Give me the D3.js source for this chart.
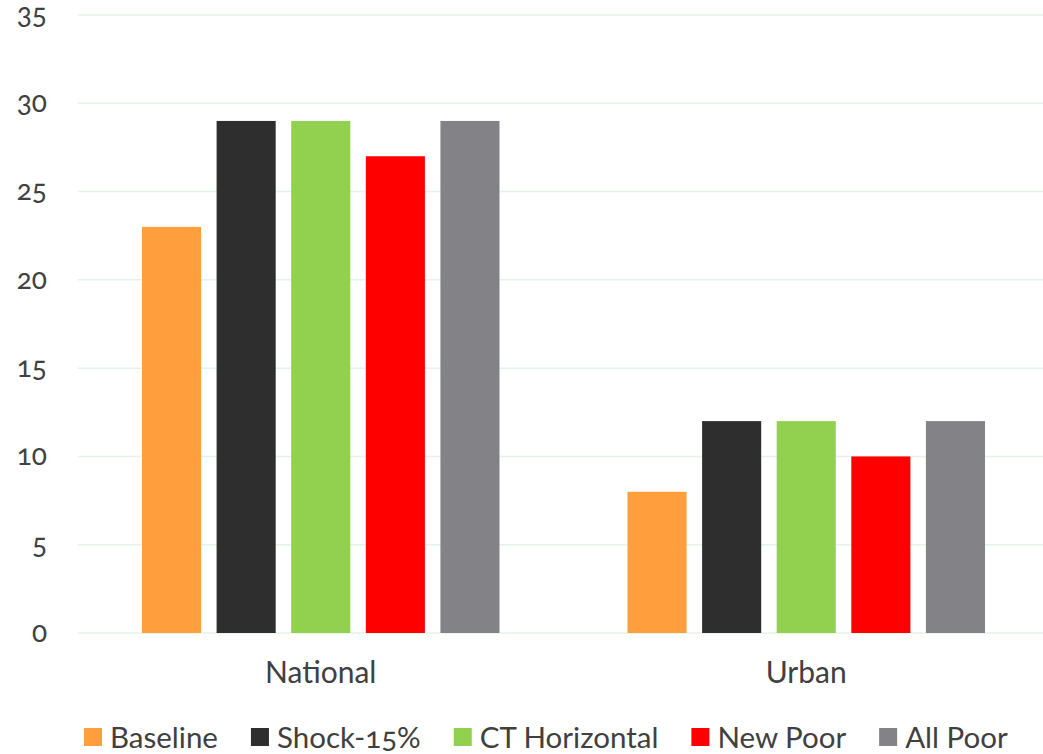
<!DOCTYPE html>
<html>
<head>
<meta charset="utf-8">
<script src="https://cdn.jsdelivr.net/npm/d3@7"></script>
<style>
  html, body { margin: 0; padding: 0; background: #fff; }
  svg { display: block; }
  text { font-family: Lato, "Open Sans", sans-serif; fill: #404040; font-variant-numeric: oldstyle-nums; font-feature-settings: "onum" 1; }
</style>
</head>
<body>
<svg id="chart" width="1043" height="754"></svg>
<script>
// Poverty rates by area under each scenario
const categories = ["National", "Urban"];
const seriesNames = ["Baseline", "Shock-15%", "CT Horizontal", "New Poor", "All Poor"];
const seriesColors = ["#FF9E3D", "#2E2E2E", "#92D050", "#FF0000", "#838287"];
const baseline = [23, 8];
const shock15 = [29, 12];
const ctHorizontal = [29, 12];
const newPoor = [27, 10];
const allPoor = [29, 12];
const yTicks = [0, 5, 10, 15, 20, 25, 30, 35];

const seriesValues = [baseline, shock15, ctHorizontal, newPoor, allPoor];

const svg = d3.select("#chart");
const plot = { left: 78, right: 1049, top: 15, bottom: 633 };

const y = d3.scaleLinear().domain([0, 35]).range([plot.bottom, plot.top]);
const x0 = d3.scaleBand().domain(categories).range([plot.left, plot.right]).padding(0);
const x1 = d3.scaleBand().domain(seriesNames)
  .range([64, x0.bandwidth() - 64])
  .paddingInner(0.208).paddingOuter(0);

// gridlines
svg.append("g")
  .selectAll("line")
  .data(yTicks)
  .join("line")
  .attr("x1", plot.left).attr("x2", plot.right)
  .attr("y1", d => y(d)).attr("y2", d => y(d))
  .attr("stroke", "#E4F4E8").attr("stroke-width", 1.5);

// y axis labels
const yAxis = d3.axisLeft(y).tickValues(yTicks).tickSize(0).tickPadding(0);
const yg = svg.append("g").attr("transform", `translate(47,0)`).call(yAxis);
yg.select(".domain").remove();
yg.selectAll("text")
  .attr("font-size", 28)
  .attr("dy", "0.3em")
  .style("font-family", "Lato, sans-serif")
  .style("fill", "#404040");

// bars
const groups = svg.append("g")
  .selectAll("g")
  .data(categories)
  .join("g")
  .attr("transform", d => `translate(${x0(d)},0)`);

groups.selectAll("rect")
  .data((c, ci) => seriesNames.map((s, si) => ({ s, si, v: seriesValues[si][ci] })))
  .join("rect")
  .attr("x", d => x1(d.s))
  .attr("width", x1.bandwidth())
  .attr("y", d => y(d.v))
  .attr("height", d => y(0) - y(d.v))
  .attr("fill", d => seriesColors[d.si]);

// category axis labels
const xAxis = d3.axisBottom(x0).tickSize(0).tickPadding(0);
const xg = svg.append("g").attr("transform", `translate(0,${plot.bottom})`).call(xAxis);
xg.select(".domain").remove();
xg.selectAll("text")
  .attr("y", 50)
  .attr("dy", 0)
  .attr("font-size", 30)
  .style("font-family", "Lato, sans-serif")
  .style("fill", "#404040");

// legend
const legend = svg.append("g").attr("transform", "translate(0,737)");
let lx = 84;
seriesNames.forEach((name, i) => {
  const item = legend.append("g");
  item.append("rect")
    .attr("x", lx).attr("y", -9)
    .attr("width", 18).attr("height", 18)
    .attr("fill", seriesColors[i]);
  const t = item.append("text")
    .attr("x", lx + 26).attr("y", 10.5)
    .attr("font-size", 29.5)
    .text(name);
  lx = lx + 26 + t.node().getComputedTextLength() + 33;
});
</script>
</body>
</html>
